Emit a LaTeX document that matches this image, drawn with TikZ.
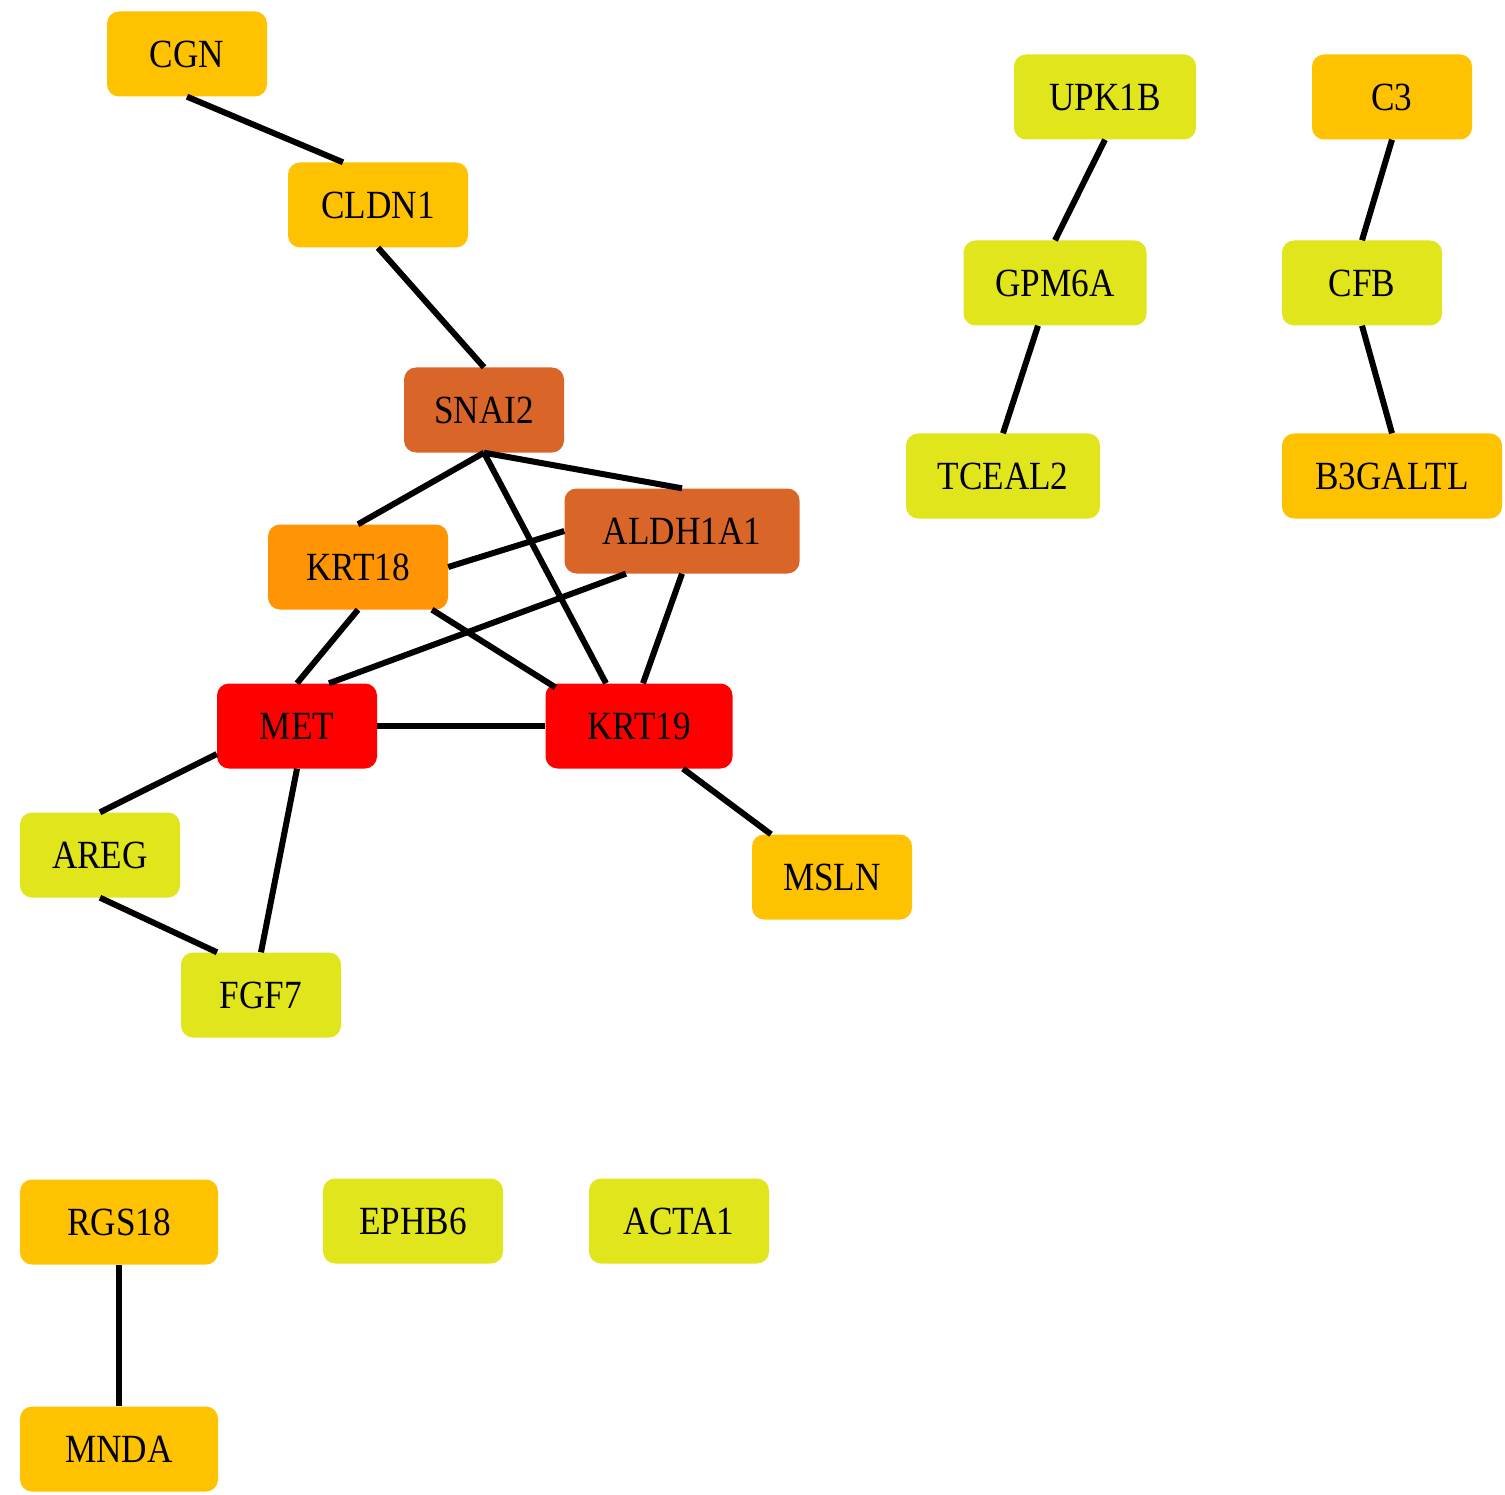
\documentclass[tikz,border=0pt]{standalone}
\usepackage{fontspec}
\setmainfont{Liberation Serif}
\definecolor{cOr}{RGB}{255,194,0}
\definecolor{cYg}{RGB}{224,229,28}
\definecolor{cBr}{RGB}{217,102,40}
\definecolor{cKo}{RGB}{255,149,5}
\definecolor{cRd}{RGB}{255,0,0}
\newcommand{\glab}[1]{\scalebox{0.88}[1]{#1}}
\tikzset{
  gene/.style={rectangle, rounded corners=12pt, inner sep=0pt, minimum height=85pt,
    font=\fontsize{40}{42}\selectfont, text=black},
  edge/.style={line width=6pt, black}
}
\begin{document}
\begin{tikzpicture}[x=1pt,y=-1pt]
\useasboundingbox (0,0) rectangle (1505,1495);
\fill[white] (0,0) rectangle (1505,1495);
% nodes
\node[gene, fill=cOr, minimum width=160pt] (CGN) at (187,54) {\glab{CGN}};
\node[gene, fill=cOr, minimum width=180pt] (CLDN1) at (378,205) {\glab{CLDN1}};
\node[gene, fill=cBr, minimum width=160pt] (SNAI2) at (484,410) {\glab{SNAI2}};
\node[gene, fill=cBr, minimum width=235pt] (ALDH1A1) at (682,531) {\glab{ALDH1A1}};
\node[gene, fill=cKo, minimum width=180pt] (KRT18) at (358,567) {\glab{KRT18}};
\node[gene, fill=cRd, minimum width=160pt] (MET) at (297,726) {\glab{MET}};
\node[gene, fill=cRd, minimum width=187pt] (KRT19) at (639,726) {\glab{KRT19}};
\node[gene, fill=cYg, minimum width=160pt] (AREG) at (100,855) {\glab{AREG}};
\node[gene, fill=cYg, minimum width=160pt] (FGF7) at (261,995) {\glab{FGF7}};
\node[gene, fill=cOr, minimum width=160pt] (MSLN) at (832,877) {\glab{MSLN}};
\node[gene, fill=cYg, minimum width=182pt] (UPK1B) at (1105,97) {\glab{UPK1B}};
\node[gene, fill=cYg, minimum width=183pt] (GPM6A) at (1055,283) {\glab{GPM6A}};
\node[gene, fill=cYg, minimum width=194pt] (TCEAL2) at (1003,476) {\glab{TCEAL2}};
\node[gene, fill=cOr, minimum width=160pt] (C3) at (1392,97) {\glab{C3}};
\node[gene, fill=cYg, minimum width=160pt] (CFB) at (1362,283) {\glab{CFB}};
\node[gene, fill=cOr, minimum width=220pt] (B3GALTL) at (1392,476) {\glab{B3GALTL}};
\node[gene, fill=cOr, minimum width=198pt] (RGS18) at (119,1222) {\glab{RGS18}};
\node[gene, fill=cYg, minimum width=180pt] (EPHB6) at (413,1221) {\glab{EPHB6}};
\node[gene, fill=cYg, minimum width=180pt] (ACTA1) at (679,1221) {\glab{ACTA1}};
\node[gene, fill=cOr, minimum width=198pt] (MNDA) at (119,1449) {\glab{MNDA}};
% edges
\draw[edge] (CGN.south) -- ([xshift=-35pt]CLDN1.north);
\draw[edge] (CLDN1.south) -- (SNAI2.north);
\draw[edge] (SNAI2.south) -- (KRT18.north);
\draw[edge] (SNAI2.south) -- (ALDH1A1.north);
\draw[edge] (SNAI2.south) -- ([xshift=-33pt]KRT19.north);
\draw[edge] (ALDH1A1.west) -- (KRT18.east);
\draw[edge] ([xshift=-56pt]ALDH1A1.south) -- ([xshift=32pt]MET.north);
\draw[edge] (ALDH1A1.south) -- ([xshift=4pt]KRT19.north);
\draw[edge] (KRT18.south) -- (MET.north);
\draw[edge] ([xshift=74pt]KRT18.south) -- ([xshift=10pt,yshift=-4pt]KRT19.north west);
\draw[edge] (MET.east) -- (KRT19.west);
\draw[edge] ([yshift=-28pt]MET.west) -- (AREG.north);
\draw[edge] (MET.south) -- (FGF7.north);
\draw[edge] (AREG.south) -- ([xshift=-44pt]FGF7.north);
\draw[edge] ([xshift=44pt]KRT19.south) -- ([xshift=-61pt]MSLN.north);
\draw[edge] (UPK1B.south) -- (GPM6A.north);
\draw[edge] ([xshift=-17pt]GPM6A.south) -- (TCEAL2.north);
\draw[edge] (C3.south) -- (CFB.north);
\draw[edge] (CFB.south) -- (B3GALTL.north);
\draw[edge] (RGS18.south) -- (MNDA.north);
\end{tikzpicture}
\end{document}
